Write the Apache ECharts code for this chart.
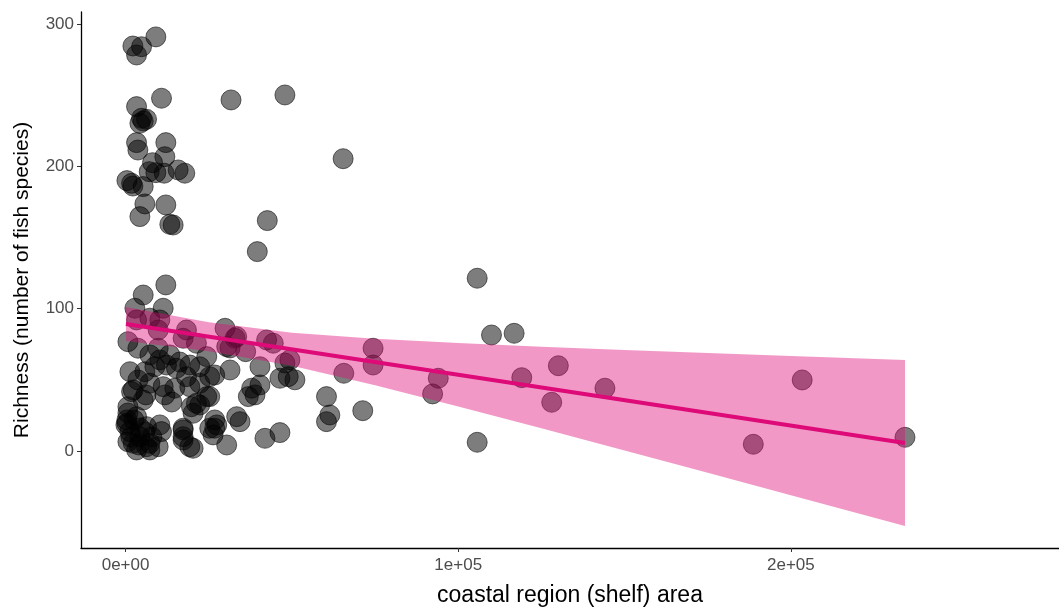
<!DOCTYPE html>
<html>
<head>
<meta charset="UTF-8">
<title>richness_vs_shelf</title>
<script src="https://cdn.jsdelivr.net/npm/echarts@6/dist/echarts.min.js"></script>
<style>
  html, body { margin: 0; padding: 0; background: #fff; }
  #main { width: 1059px; height: 607px; }
</style>
</head>
<body>
<div id="main"></div>
<script>
// coastal region (shelf) area vs richness
var shelfArea = [
  2200, 4800, 3300, 9100, 10800, 3300, 4800, 6300, 5300, 4300,
  3300, 3700, 12100, 11800, 8100, 7100, 9100, 11600, 15800, 17800,
  400, 1800, 5300, 2200, 5800, 12100, 4300, 13300, 14300, 31700,
  47900, 65400, 42600, 39600, 12100, 5300, 11300, 2800, 3300, 7300,
  10300, 700, 18300, 29900, 33400, 30400, 32900, 44400, 49400, 47900,
  74400, 74400, 65600, 1300, 31400, 31400, 40400, 2300, 37900, 40400,
  46400, 48900, 50900, 700, 21300, 20300, 25300, 26800, 27400, 33400,
  34400, 400, 1300, 10300, 10800, 17300, 17300, 20300, 30400, 41900,
  46400, 700, 6300, 3300, 7300, 36900, 38900, 60400, 61400, 60400,
  71300, 26800, 105700, 110000, 116800, 94000, 92300, 119100, 130100, 128100,
  144100, 105700, 203400, 188700, 234300, 3700, 9800, 17300, 21300, 24400,
  5800, 8800, 12300, 15300, 18300, 22300, 25300, 22300, 3700, 7300,
  11300, 14800, 19300, 1800, 24400, 5300, 19800, 400, 3300, 6300,
  100, 4300, 7300, 2300, 17300, 17300, 19300, 25300, 26300, 9800,
  42400, 36100, 9800, 26800, 700, 2500, 4300, 1600, 5800, 7900,
  4000, 6100, 10300, 13300, 16300, 7300, 19300, 11800, 13900, 22300
];
var richness = [
  284.6, 284.1, 278.3, 291.0, 247.9, 242.0, 233.8, 233.1, 231.9, 230.3,
  216.7, 211.5, 216.7, 206.8, 202.6, 196.3, 195.6, 195.2, 197.5, 195.2,
  190.0, 188.1, 185.8, 186.2, 173.6, 172.9, 164.7, 159.3, 158.8, 246.7,
  250.2, 205.4, 161.9, 140.1, 116.7, 109.6, 100.3, 100.3, 92.1, 93.3,
  92.1, 76.8, 85.0, 86.2, 80.3, 73.3, 79.2, 75.7, 64.0, 61.8,
  72.2, 60.4, 54.6, 55.7, 56.9, 72.4, 59.2, 42.9, 44.1, 46.4,
  51.1, 52.2, 50.0, 31.1, 33.5, 26.5, 38.2, 21.8, 18.3, 24.1,
  20.6, 19.5, 13.6, 18.3, 13.6, 14.8, 7.7, 1.9, 4.2, 8.9,
  12.9, 6.5, 3.0, 0.7, 0.7, 38.2, 39.4, 38.2, 25.3, 20.6,
  28.3, 16.0, 121.4, 81.5, 82.7, 51.1, 40.1, 51.5, 59.9, 34.2,
  44.1, 6.1, 49.9, 4.7, 9.6, 72.2, 72.2, 79.2, 75.7, 66.3,
  55.7, 59.2, 60.4, 58.1, 52.2, 59.2, 52.2, 47.6, 49.9, 47.6,
  45.2, 44.1, 45.2, 41.7, 38.2, 35.8, 31.1, 21.8, 24.1, 17.1,
  18.3, 10.0, 5.4, 5.4, 16.0, 10.0, 3.0, 16.0, 11.3, 3.0,
  78.0, 69.8, 85.0, 53.4, 26.7, 21.8, 16.2, 9.8, 13.4, 9.8,
  4.2, 39.4, 64.0, 67.5, 62.5, 67.5, 60.4, 39.4, 34.4, 32.3
];

// linear fit and its confidence ribbon
var fitX = [100, 234300];
var fitY = [89.2, 5.6];
var bandX = [100, 25000, 50000, 75000, 100000, 125000, 150000, 175000, 200000, 234300];
var bandLower = [77.3, 70.1, 59.8, 46.2, 31.2, 15.9, 0.4, -15.3, -31.1, -52.7];
var bandUpper = [101.1, 90.5, 83.0, 78.8, 75.8, 73.3, 71.0, 68.9, 66.7, 63.9];

var xTicks = [0, 100000, 200000];
var xTickLabels = ['0e+00', '1e+05', '2e+05'];
var yTicks = [0, 100, 200, 300];

var points = shelfArea.map(function (x, i) { return [x, richness[i]]; });
var fitData = fitX.map(function (x, i) { return [x, fitY[i]]; });

var font = '"Liberation Sans", Arial, sans-serif';

var myChart = echarts.init(document.getElementById('main'), null, { renderer: 'canvas' });

// ribbon as one polygon: upper edge left->right, lower edge right->left
function renderBand(params, api) {
    var pts = [];
    for (var i = 0; i < bandX.length; i++) {
        pts.push(api.coord([bandX[i], bandUpper[i]]));
    }
    for (var j = bandX.length - 1; j >= 0; j--) {
        pts.push(api.coord([bandX[j], bandLower[j]]));
    }
    return {
        type: 'polygon',
        shape: { points: pts },
        style: { fill: 'rgba(221,10,120,0.42)' }
    };
}

var option = {
    animation: false,
    grid: {
        left: 81,
        right: 0,
        top: 12,
        bottom: 59,
        containLabel: false,
        outerBoundsMode: 'none'
    },
    xAxis: {
        type: 'value',
        min: -13400,
        max: 280600,
        name: 'coastal region (shelf) area',
        nameLocation: 'middle',
        nameGap: 36,
        nameTextStyle: { fontFamily: font, fontSize: 23, color: '#000' },
        axisLine: { show: true, onZero: false, lineStyle: { color: '#000', width: 1.3 } },
        axisTick: { show: true, length: 4, customValues: xTicks, lineStyle: { color: '#333' } },
        axisLabel: {
            customValues: xTicks,
            margin: 9,
            fontFamily: font,
            fontSize: 17,
            color: '#4d4d4d',
            formatter: function (v) { return xTickLabels[xTicks.indexOf(v)]; }
        },
        splitLine: { show: false }
    },
    yAxis: {
        type: 'value',
        min: -68.2,
        max: 308.5,
        name: 'Richness (number of fish species)',
        nameLocation: 'middle',
        nameGap: 48,
        nameTextStyle: { fontFamily: font, fontSize: 21, color: '#000' },
        axisLine: { show: true, onZero: false, lineStyle: { color: '#000', width: 1.3 } },
        axisTick: { show: true, length: 4, customValues: yTicks, lineStyle: { color: '#333' } },
        axisLabel: {
            customValues: yTicks,
            margin: 7,
            fontFamily: font,
            fontSize: 17,
            color: '#4d4d4d'
        },
        splitLine: { show: false }
    },
    series: [
        {
            type: 'scatter',
            data: points,
            symbolSize: 20,
            z: 2,
            itemStyle: {
                color: 'rgba(0,0,0,0.64)',
                borderColor: 'rgba(0,0,0,0.7)',
                borderWidth: 1
            }
        },
        {
            type: 'custom',
            renderItem: renderBand,
            data: [[bandX[0], bandLower[0]]],
            z: 3,
            silent: true
        },
        {
            type: 'line',
            data: fitData,
            symbol: 'none',
            z: 4,
            lineStyle: { color: '#dd0a78', width: 4 }
        }
    ]
};
myChart.setOption(option);
</script>
</body>
</html>
